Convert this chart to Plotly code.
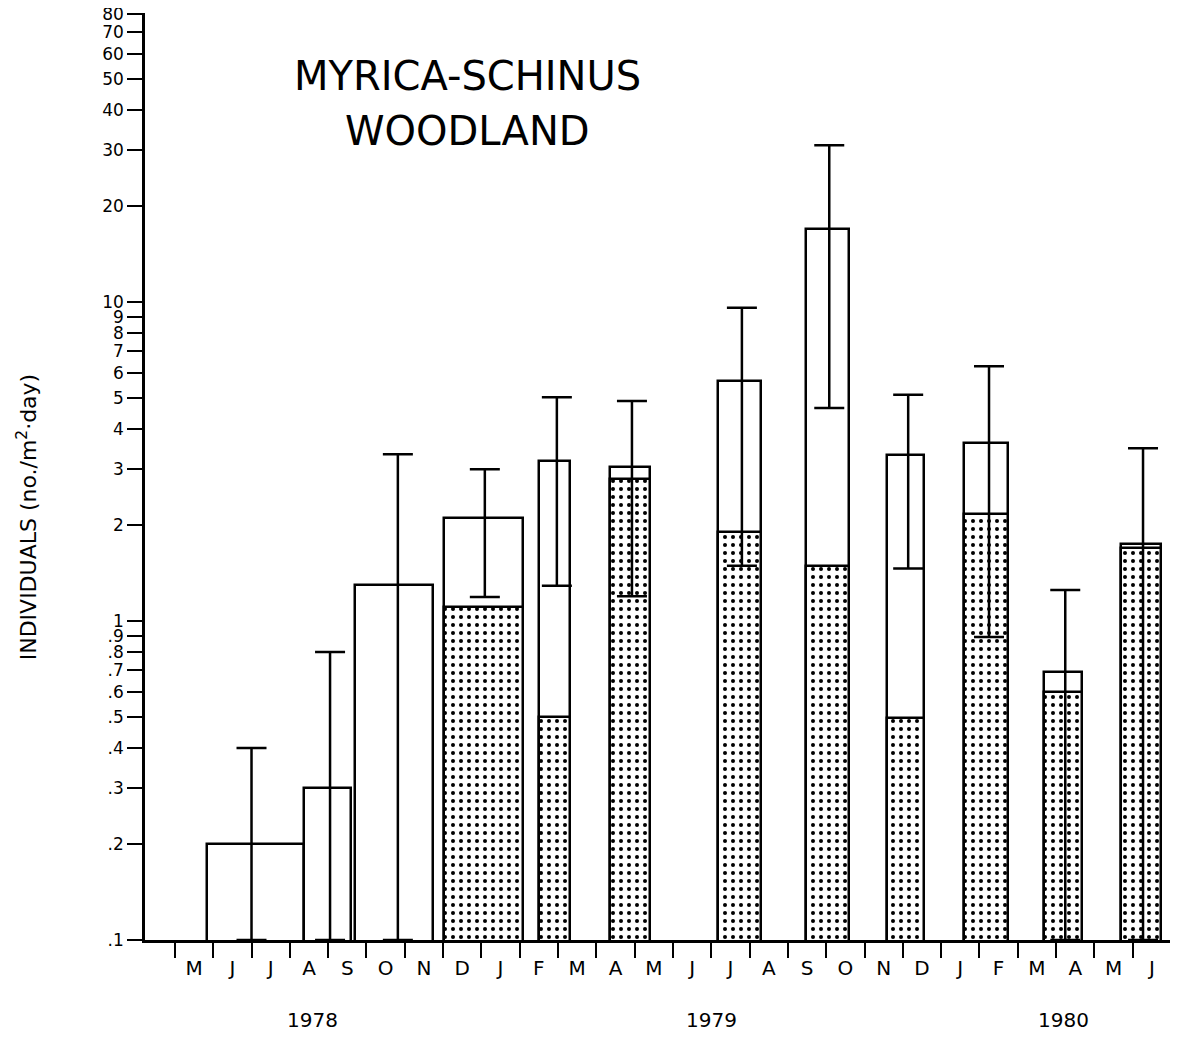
import plotly.graph_objects as go

# ---- data (months counted from start of May 1978) ----
bar_start = [0.84, 3.37, 4.70, 7.02, 9.50, 11.36, 14.18, 16.48, 18.59, 20.60, 22.69, 24.70]
bar_end   = [3.37, 4.60, 6.74, 9.09, 10.31, 12.40, 15.30, 17.60, 19.56, 21.75, 23.68, 25.74]
total     = [0.2, 0.3, 1.3, 2.1, 3.17, 3.04, 5.65, 16.9, 3.32, 3.61, 0.69, 1.74]
stippled  = [None, None, None, 1.11, 0.5, 2.78, 1.9, 1.49, 0.497, 2.17, 0.597, 1.69]
err_x     = [2.0, 4.05, 5.82, 8.09, 9.97, 11.93, 14.80, 17.08, 19.14, 21.25, 23.24, 25.27]
err_high  = [0.4, 0.8, 3.33, 2.99, 5.03, 4.89, 9.6, 31.0, 5.12, 6.29, 1.25, 3.48]
err_low   = [0.1, 0.1, 0.1, 1.19, 1.29, 1.195, 1.49, 4.65, 1.46, 0.891, 0.1, 0.1]

month_labels = ["M", "J", "J", "A", "S", "O", "N", "D", "J", "F", "M", "A", "M",
                "J", "J", "A", "S", "O", "N", "D", "J", "F", "M", "A", "M", "J"]
year_labels = ["1978", "1979", "1980"]
year_pos = [3.58, 14.0, 23.2]

y_tickvals = [0.1, 0.2, 0.3, 0.4, 0.5, 0.6, 0.7, 0.8, 0.9, 1, 2, 3, 4, 5, 6, 7, 8, 9,
              10, 20, 30, 40, 50, 60, 70, 80]
y_ticktext = [".1", ".2", ".3", ".4", ".5", ".6", ".7", ".8", ".9", "1", "2", "3", "4",
              "5", "6", "7", "8", "9", "10", "20", "30", "40", "50", "60", "70", "80"]

FONT = "DejaVu Sans"
LW = 2.5

centers = [(a + b) / 2 for a, b in zip(bar_start, bar_end)]
widths = [b - a for a, b in zip(bar_start, bar_end)]

fig = go.Figure()

# open (total) bars
fig.add_trace(go.Bar(
    x=centers, y=total, width=widths,
    marker=dict(color="white", line=dict(color="black", width=LW)),
    showlegend=False, hoverinfo="skip",
))

# stippled portions
sx = [c for c, s in zip(centers, stippled) if s is not None]
sw = [w for w, s in zip(widths, stippled) if s is not None]
sy = [s for s in stippled if s is not None]
fig.add_trace(go.Bar(
    x=sx, y=sy, width=sw,
    marker=dict(color="white", line=dict(color="black", width=LW),
                pattern=dict(shape=".", fgcolor="black", bgcolor="white",
                             size=8, solidity=0.2, fillmode="replace")),
    showlegend=False, hoverinfo="skip",
))

# error bars
fig.add_trace(go.Scatter(
    x=err_x, y=total, mode="markers",
    marker=dict(size=1, color="rgba(0,0,0,0)"),
    error_y=dict(type="data", symmetric=False,
                 array=[h - t for h, t in zip(err_high, total)],
                 arrayminus=[t - l for t, l in zip(total, err_low)],
                 color="black", thickness=LW, width=15),
    showlegend=False, hoverinfo="skip", cliponaxis=True,
))

# page body has an 8px default margin: compensate
fig.update_layout(
    width=1170, height=1031,
    margin=dict(l=137, r=7, t=5, b=99),
    paper_bgcolor="white", plot_bgcolor="white",
    barmode="overlay", bargap=0,
    font=dict(family=FONT, color="black", size=20),
)

fig.update_xaxes(
    range=[-0.78, 26.0], automargin=False,
    showgrid=False, zeroline=False,
    showline=True, linecolor="black", linewidth=LW,
    tickmode="array", tickvals=[k + 0.5 for k in range(26)], ticktext=month_labels,
    ticks="", ticklabelstandoff=8,
    tickfont=dict(family=FONT, size=20),
    minor=dict(tickmode="array", tickvals=list(range(27)), ticks="outside",
               ticklen=15, tickwidth=2, tickcolor="black", showgrid=False),
)

fig.update_yaxes(
    type="log", range=[-1, 1.906], automargin=False,
    showgrid=False, zeroline=False,
    showline=True, linecolor="black", linewidth=LW,
    tickmode="array", tickvals=y_tickvals, ticktext=y_ticktext,
    ticks="outside", ticklen=15, tickwidth=2, tickcolor="black",
    tickfont=dict(family=FONT, size=17),
    ticklabeloverflow="allow",
)

annotations = []
for lab, pos in zip(year_labels, year_pos):
    annotations.append(dict(x=pos, y=-0.086, xref="x", yref="paper", text=lab,
                            showarrow=False, font=dict(family=FONT, size=20),
                            xanchor="center", yanchor="middle"))
annotations.append(dict(x=0.314, y=0.932, xref="paper", yref="paper", text="MYRICA-SCHINUS",
                        showarrow=False, font=dict(family=FONT, size=40),
                        xanchor="center", yanchor="middle"))
annotations.append(dict(x=0.314, y=0.873, xref="paper", yref="paper", text="WOODLAND",
                        showarrow=False, font=dict(family=FONT, size=40),
                        xanchor="center", yanchor="middle"))
annotations.append(dict(x=-0.115, y=0.456, xref="paper", yref="paper",
                        text="INDIVIDUALS (no./m<sup>2</sup>·day)", textangle=-90,
                        showarrow=False, font=dict(family=FONT, size=22),
                        xanchor="center", yanchor="middle"))
fig.update_layout(annotations=annotations)

fig.write_html("out.html")
